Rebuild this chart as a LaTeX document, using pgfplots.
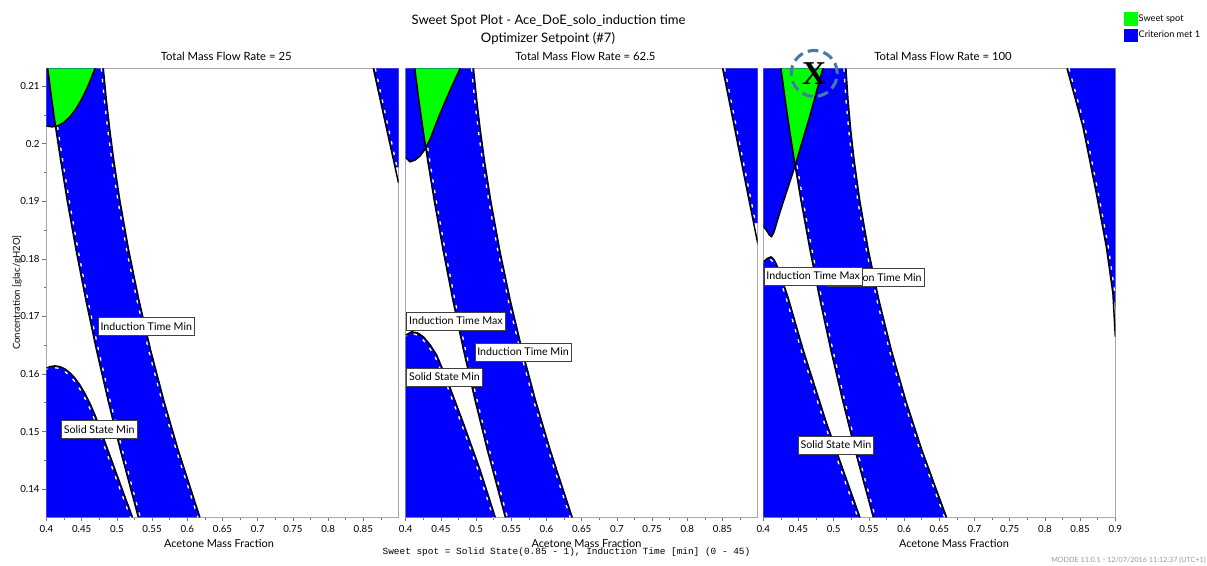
\documentclass[border=0pt]{standalone}
\usepackage{fontspec}
\setmainfont{Lato}
\newfontfamily\monofont{Liberation Mono}
\newfontfamily\xfont{Liberation Serif}
\usepackage{pgfplots}
\pgfplotsset{compat=1.18}
\definecolor{ringblue}{RGB}{74,122,164}
\definecolor{framegray}{RGB}{170,170,170}
\newcommand\tfont{\fontsize{9.8}{11}\selectfont}
\newcommand\ptfont{\fontsize{8.5}{10}\selectfont}
\newcommand\lblfont{\fontsize{8}{9.5}\selectfont}
\newcommand\tkfont{\fontsize{7.3}{8}\selectfont}
\newcommand\xlfont{\fontsize{8.2}{9.5}\selectfont}
\newcommand\ylfont{\fontsize{7.2}{8.5}\selectfont}
\newcommand\lgfont{\fontsize{6.9}{8}\selectfont}
\newcommand\modfont{\fontsize{5.4}{6.5}\selectfont}
\tikzset{lbl/.style={draw=black!75, fill=white, line width=0.5pt, inner xsep=1.8pt, inner ysep=0pt, minimum height=13.5pt, font=\lblfont}}
\pgfplotsset{
  panel/.style={
    scale only axis, width=264pt, height=336.75pt,
    xmin=0.4, xmax=0.9, ymin=0.1351, ymax=0.2131,
    axis line style={draw=framegray, line width=0.7pt},
    tick align=outside, tick pos=left,
    major tick length=3pt, minor tick length=1.8pt,
    every tick/.style={draw=black!55, line width=0.5pt},
    xtick={0.4,0.45,0.5,0.55,0.6,0.65,0.7,0.75,0.8,0.85},
    minor xtick={0.425,0.475,0.525,0.575,0.625,0.675,0.725,0.775,0.825,0.875},
    ytick={0.14,0.15,0.16,0.17,0.18,0.19,0.2,0.21},
    minor ytick={0.145,0.155,0.165,0.175,0.185,0.195,0.205},
    /pgf/number format/assume math mode=true,
    xticklabel style={font=\tkfont, anchor=center, yshift=-5.5pt, inner sep=0pt,
      /pgf/number format/fixed, /pgf/number format/precision=3},
    yticklabel style={font=\tkfont, anchor=east, xshift=-2.0pt, inner sep=0pt,
      /pgf/number format/fixed, /pgf/number format/precision=3},
    title style={font=\ptfont, at={(0.5,1)}, anchor=center, yshift=3.3pt, xshift=2.8pt, inner sep=0pt},
    xlabel={Acetone Mass Fraction},
    xlabel style={font=\xlfont, at={(axis description cs:0.5,0)}, anchor=center, yshift=-19.5pt, inner sep=0pt},
  },
  bk/.style={black, line width=1.1pt},
  wd/.style={white, line width=1pt, dash pattern=on 2.5pt off 5.5pt},
  bf/.style={fill=blue, draw=none},
  gf/.style={fill=green, draw=none},
}
\begin{document}
\begin{tikzpicture}
\path[use as bounding box] (-34.875pt,-35.775pt) rectangle (870.375pt,387.975pt);

% ---------------- Panel 1 ----------------
\begin{axis}[panel, at={(0pt,0pt)}, anchor=south west,
  title={Total Mass Flow Rate = 25},
  ylabel={Concentration [glac/gH2O]},
  ylabel style={font=\ylfont, at={(axis description cs:-0.0837,0.5)}, anchor=center, inner sep=0pt},
  xlabel style={xshift=-2.6pt}]
\addplot[bf] coordinates {(0.4,0.2131) (0.4,0.20308) (0.40781,0.20292) (0.41634,0.20311) (0.42486,0.20371) (0.43338,0.20469) (0.44190,0.20607) (0.45043,0.20784) (0.45895,0.21001) (0.46902,0.2131)};
\addplot[bf] coordinates {(0.40170,0.2131) (0.40759,0.20757) (0.41359,0.20236) (0.42006,0.19715) (0.42933,0.19020) (0.44202,0.18152) (0.45592,0.17283) (0.47104,0.16415) (0.48736,0.15546) (0.50489,0.14678) (0.53040,0.1351)
 (0.61790,0.1351) (0.58710,0.14678) (0.56648,0.15546) (0.54788,0.16415) (0.53129,0.17283) (0.51672,0.18152) (0.50415,0.19020) (0.49554,0.19715) (0.48994,0.20236) (0.48506,0.20757) (0.48068,0.2131)};
\addplot[bf] coordinates {(0.4,0.1351) (0.4,0.16102) (0.40497,0.16127) (0.41207,0.16140) (0.41918,0.16127) (0.42628,0.16087) (0.43338,0.16020) (0.44048,0.15927) (0.44759,0.15807) (0.45469,0.15660) (0.46179,0.15487) (0.46889,0.15287) (0.47599,0.15060) (0.48068,0.14897) (0.49020,0.14579) (0.50156,0.14198) (0.52216,0.1351)};
\addplot[bf] coordinates {(0.8642,0.2131) (0.9,0.2131) (0.9,0.1959) (0.8951,0.1959)};
\addplot[gf] coordinates {(0.41293,0.20299) (0.41634,0.20311) (0.42486,0.20371) (0.43338,0.20469) (0.44190,0.20607) (0.45043,0.20784) (0.45895,0.21001) (0.46902,0.2131) (0.40170,0.2131) (0.40759,0.20757) (0.41293,0.20299)};
\addplot[wd, xshift=1.5pt] coordinates {(0.41293,0.20299) (0.41359,0.20236) (0.42006,0.19715) (0.42933,0.19020) (0.44202,0.18152) (0.45592,0.17283) (0.47104,0.16415) (0.48736,0.15546) (0.50489,0.14678) (0.53040,0.1351)};
\addplot[wd, xshift=-1.5pt] coordinates {(0.48068,0.2131) (0.48506,0.20757) (0.48994,0.20236) (0.49554,0.19715) (0.50415,0.19020) (0.51672,0.18152) (0.53129,0.17283) (0.54788,0.16415) (0.56648,0.15546) (0.58710,0.14678) (0.61790,0.1351)};
\addplot[wd, xshift=-1.2pt, yshift=-1.2pt] coordinates {(0.4,0.16102) (0.40497,0.16127) (0.41207,0.16140) (0.41918,0.16127) (0.42628,0.16087) (0.43338,0.16020) (0.44048,0.15927) (0.44759,0.15807) (0.45469,0.15660) (0.46179,0.15487) (0.46889,0.15287) (0.47599,0.15060) (0.48068,0.14897) (0.49020,0.14579) (0.50156,0.14198) (0.52216,0.1351)};
\addplot[wd, xshift=1.5pt] coordinates {(0.8642,0.2131) (0.8951,0.1959)};
\addplot[bk] coordinates {(0.40170,0.2131) (0.40759,0.20757) (0.41359,0.20236) (0.42006,0.19715) (0.42933,0.19020) (0.44202,0.18152) (0.45592,0.17283) (0.47104,0.16415) (0.48736,0.15546) (0.50489,0.14678) (0.53040,0.1351)};
\addplot[bk] coordinates {(0.48068,0.2131) (0.48506,0.20757) (0.48994,0.20236) (0.49554,0.19715) (0.50415,0.19020) (0.51672,0.18152) (0.53129,0.17283) (0.54788,0.16415) (0.56648,0.15546) (0.58710,0.14678) (0.61790,0.1351)};
\addplot[bk] coordinates {(0.4,0.16102) (0.40497,0.16127) (0.41207,0.16140) (0.41918,0.16127) (0.42628,0.16087) (0.43338,0.16020) (0.44048,0.15927) (0.44759,0.15807) (0.45469,0.15660) (0.46179,0.15487) (0.46889,0.15287) (0.47599,0.15060) (0.48068,0.14897) (0.49020,0.14579) (0.50156,0.14198) (0.52216,0.1351)};
\addplot[bk] coordinates {(0.4,0.20308) (0.40781,0.20292) (0.41634,0.20311) (0.42486,0.20371) (0.43338,0.20469) (0.44190,0.20607) (0.45043,0.20784) (0.45895,0.21001) (0.46902,0.2131)};
\addplot[bk] coordinates {(0.8642,0.2131) (0.9,0.1932)};
\node[lbl] at (axis cs:0.54176,0.16819) {Induction Time Min};
\node[lbl] at (axis cs:0.47486,0.15037) {Solid State Min};
\end{axis}

% ---------------- Panel 2 ----------------
\begin{axis}[panel, at={(269.4pt,0pt)}, anchor=south west,
  title={Total Mass Flow Rate = 62.5},
  ytick=\empty, minor ytick=\empty,
  xlabel style={xshift=3.6pt}]
\addplot[bf] coordinates {(0.4,0.2131) (0.4,0.19759) (0.40613,0.19686) (0.41325,0.19715) (0.42037,0.19785) (0.42749,0.19906) (0.43462,0.20080) (0.44886,0.20526) (0.46311,0.20931) (0.47735,0.2131)};
\addplot[bf] coordinates {(0.41280,0.2131) (0.41869,0.20757) (0.42469,0.20236) (0.43116,0.19715) (0.44043,0.19020) (0.45312,0.18152) (0.46702,0.17283) (0.48214,0.16415) (0.49846,0.15546) (0.51599,0.14678) (0.54150,0.1351)
 (0.63650,0.1351) (0.60525,0.14678) (0.58430,0.15546) (0.56536,0.16415) (0.54844,0.17283) (0.53353,0.18152) (0.52063,0.19020) (0.51175,0.19715) (0.50595,0.20236) (0.50087,0.20757) (0.49628,0.2131)};
\addplot[bf] coordinates {(0.4,0.1351) (0.4,0.16675) (0.4085,0.16733) (0.4170,0.16712) (0.4251,0.16646) (0.4345,0.16510) (0.4441,0.16328) (0.4607,0.15836) (0.4821,0.15141) (0.5058,0.14330) (0.5272,0.1351)};
\addplot[bf] coordinates {(0.85014,0.2131) (0.9,0.2131) (0.9,0.1862) (0.8942,0.1862)};
\addplot[gf] coordinates {(0.4285,0.1993) (0.43462,0.20080) (0.44886,0.20526) (0.46311,0.20931) (0.47735,0.2131) (0.41280,0.2131) (0.41869,0.20757) (0.42469,0.20236) (0.4285,0.1993)};
\addplot[wd, xshift=1.5pt] coordinates {(0.4285,0.1993) (0.43116,0.19715) (0.44043,0.19020) (0.45312,0.18152) (0.46702,0.17283) (0.48214,0.16415) (0.49846,0.15546) (0.51599,0.14678) (0.54150,0.1351)};
\addplot[wd, xshift=-1.5pt] coordinates {(0.49628,0.2131) (0.50087,0.20757) (0.50595,0.20236) (0.51175,0.19715) (0.52063,0.19020) (0.53353,0.18152) (0.54844,0.17283) (0.56536,0.16415) (0.58430,0.15546) (0.60525,0.14678) (0.63650,0.1351)};
\addplot[wd, xshift=-1.2pt, yshift=-1.2pt] coordinates {(0.4,0.16675) (0.4085,0.16733) (0.4170,0.16712) (0.4251,0.16646) (0.4345,0.16510) (0.4441,0.16328) (0.4607,0.15836) (0.4821,0.15141) (0.5058,0.14330) (0.5272,0.1351)};
\addplot[wd, xshift=1.5pt] coordinates {(0.85014,0.2131) (0.8942,0.1862)};
\addplot[bk] coordinates {(0.41280,0.2131) (0.41869,0.20757) (0.42469,0.20236) (0.43116,0.19715) (0.44043,0.19020) (0.45312,0.18152) (0.46702,0.17283) (0.48214,0.16415) (0.49846,0.15546) (0.51599,0.14678) (0.54150,0.1351)};
\addplot[bk] coordinates {(0.49628,0.2131) (0.50087,0.20757) (0.50595,0.20236) (0.51175,0.19715) (0.52063,0.19020) (0.53353,0.18152) (0.54844,0.17283) (0.56536,0.16415) (0.58430,0.15546) (0.60525,0.14678) (0.63650,0.1351)};
\addplot[bk] coordinates {(0.4,0.16675) (0.4085,0.16733) (0.4170,0.16712) (0.4251,0.16646) (0.4345,0.16510) (0.4441,0.16328) (0.4607,0.15836) (0.4821,0.15141) (0.5058,0.14330) (0.5272,0.1351)};
\addplot[bk] coordinates {(0.4,0.19759) (0.40613,0.19686) (0.41325,0.19715) (0.42037,0.19785) (0.42749,0.19906) (0.43462,0.20080) (0.44886,0.20526) (0.46311,0.20931) (0.47735,0.2131)};
\addplot[bk] coordinates {(0.85014,0.2131) (0.9,0.18267)};
\node[lbl] at (axis cs:0.47137,0.16919) {Induction Time Max};
\node[lbl] at (axis cs:0.56667,0.16380) {Induction Time Min};
\node[lbl] at (axis cs:0.45499,0.15946) {Solid State Min};
\end{axis}

% ---------------- Panel 3 ----------------
\begin{axis}[panel, at={(537.6pt,0pt)}, anchor=south west,
  title={Total Mass Flow Rate = 100},
  ytick=\empty, minor ytick=\empty,
  xtick={0.4,0.45,0.5,0.55,0.6,0.65,0.7,0.75,0.8,0.85,0.9},
  xlabel style={xshift=11pt},
  legend style={at={(1.0247,1.1254)}, anchor=north west, draw=none, fill=none, inner sep=0pt,
    font=\lgfont, row sep=2.2pt, nodes={inner sep=0.8pt}},
  legend cell align=left,
  legend image code/.code={\fill[#1] (0pt,-5pt) rectangle (10pt,5pt);}]
\addlegendimage{fill=green, draw=none}
\addlegendentry{Sweet spot}
\addlegendimage{fill=blue, draw=none}
\addlegendentry{Criterion met 1}
\addplot[bf] coordinates {(0.4,0.2131) (0.4,0.18569) (0.40525,0.18482) (0.40880,0.18412) (0.41163,0.18386) (0.41518,0.18464) (0.42369,0.18812) (0.44498,0.19611) (0.46484,0.20427) (0.48471,0.2131)};
\addplot[bf] coordinates {(0.42510,0.2131) (0.43116,0.20757) (0.43732,0.20236) (0.44395,0.19715) (0.45343,0.19020) (0.46639,0.18152) (0.48056,0.17283) (0.49595,0.16415) (0.51254,0.15546) (0.53033,0.14678) (0.5562,0.1351)
 (0.66022,0.1351) (0.62529,0.14678) (0.60224,0.15546) (0.58188,0.16415) (0.56421,0.17283) (0.54921,0.18152) (0.53691,0.19020) (0.52899,0.19715) (0.52418,0.20236) (0.52035,0.20757) (0.51734,0.2131)};
\addplot[bf] coordinates {(0.4,0.1351) (0.4,0.17943) (0.40525,0.18004) (0.41093,0.18035) (0.41518,0.17987) (0.41944,0.17883) (0.42511,0.17700) (0.43504,0.17335) (0.45675,0.16414) (0.48995,0.15142) (0.53723,0.1351)};
\addplot[bf] coordinates {(0.83133,0.2131) (0.9,0.2131) (0.9,0.1714) (0.89659,0.17400) (0.88723,0.18209) (0.87304,0.19137) (0.85403,0.20294)};
\addplot[gf] coordinates {(0.4452,0.1962) (0.46484,0.20427) (0.48471,0.2131) (0.42510,0.2131) (0.43116,0.20757) (0.43732,0.20236) (0.44395,0.19715) (0.4452,0.1962)};
\addplot[wd, xshift=1.5pt] coordinates {(0.4452,0.1962) (0.45343,0.19020) (0.46639,0.18152) (0.48056,0.17283) (0.49595,0.16415) (0.51254,0.15546) (0.53033,0.14678) (0.5562,0.1351)};
\addplot[wd, xshift=-1.5pt] coordinates {(0.51734,0.2131) (0.52035,0.20757) (0.52418,0.20236) (0.52899,0.19715) (0.53691,0.19020) (0.54921,0.18152) (0.56421,0.17283) (0.58188,0.16415) (0.60224,0.15546) (0.62529,0.14678) (0.66022,0.1351)};
\addplot[wd, xshift=-1.2pt, yshift=-1.2pt] coordinates {(0.4,0.17943) (0.40525,0.18004) (0.41093,0.18035) (0.41518,0.17987) (0.41944,0.17883) (0.42511,0.17700) (0.43504,0.17335) (0.45675,0.16414) (0.48995,0.15142) (0.53723,0.1351)};
\addplot[wd, xshift=1.5pt] coordinates {(0.83133,0.2131) (0.85403,0.20294) (0.87304,0.19137) (0.88723,0.18209) (0.89659,0.17400)};
\addplot[bk] coordinates {(0.42510,0.2131) (0.43116,0.20757) (0.43732,0.20236) (0.44395,0.19715) (0.45343,0.19020) (0.46639,0.18152) (0.48056,0.17283) (0.49595,0.16415) (0.51254,0.15546) (0.53033,0.14678) (0.5562,0.1351)};
\addplot[bk] coordinates {(0.51734,0.2131) (0.52035,0.20757) (0.52418,0.20236) (0.52899,0.19715) (0.53691,0.19020) (0.54921,0.18152) (0.56421,0.17283) (0.58188,0.16415) (0.60224,0.15546) (0.62529,0.14678) (0.66022,0.1351)};
\addplot[bk] coordinates {(0.4,0.17943) (0.40525,0.18004) (0.41093,0.18035) (0.41518,0.17987) (0.41944,0.17883) (0.42511,0.17700) (0.43504,0.17335) (0.45675,0.16414) (0.48995,0.15142) (0.53723,0.1351)};
\addplot[bk] coordinates {(0.4,0.18569) (0.40525,0.18482) (0.40880,0.18412) (0.41163,0.18386) (0.41518,0.18464) (0.42369,0.18812) (0.44498,0.19611) (0.46484,0.20427) (0.48471,0.2131)};
\addplot[bk] coordinates {(0.83133,0.2131) (0.85403,0.20294) (0.87304,0.19137) (0.88723,0.18209) (0.89659,0.17400) (0.9,0.16646)};
\node[lbl] at (axis cs:0.55990,0.17679) {Induction Time Min};
\node[lbl] at (axis cs:0.47080,0.17704) {Induction Time Max};
\node[lbl] at (axis cs:0.50315,0.14765) {Solid State Min};
\addplot[only marks, mark=o, mark size=17.25pt,
  mark options={draw=ringblue, line width=2.3pt, dash pattern=on 8pt off 4pt, fill=none}]
  coordinates {(0.47236,0.21221)};
\addplot[draw=none, mark=none, nodes near coords={X},
  every node near coord/.append style={anchor=center, inner sep=0pt, text=black,
    font={\xfont\bfseries\fontsize{25}{25}\selectfont}}]
  coordinates {(0.47236,0.21221)};
\end{axis}

\node[font=\tfont] at (376.5pt,372.6pt) {Sweet Spot Plot - Ace\_DoE\_solo\_induction time};
\node[font=\tfont] at (376.1pt,359.1pt) {Optimizer Setpoint (\#7)};
\node[font={\monofont\fontsize{7.07}{8}\selectfont}] at (390pt,-26.4pt) {Sweet spot = Solid State(0.85 - 1), Induction Time [min] (0 - 45)};
\node[font=\modfont, text=black!40, anchor=east, inner sep=0pt] at (869.6pt,-32pt) {MODDE 11.0.1 - 12/07/2016 11:12:37 (UTC+1)};
\end{tikzpicture}
\end{document}
